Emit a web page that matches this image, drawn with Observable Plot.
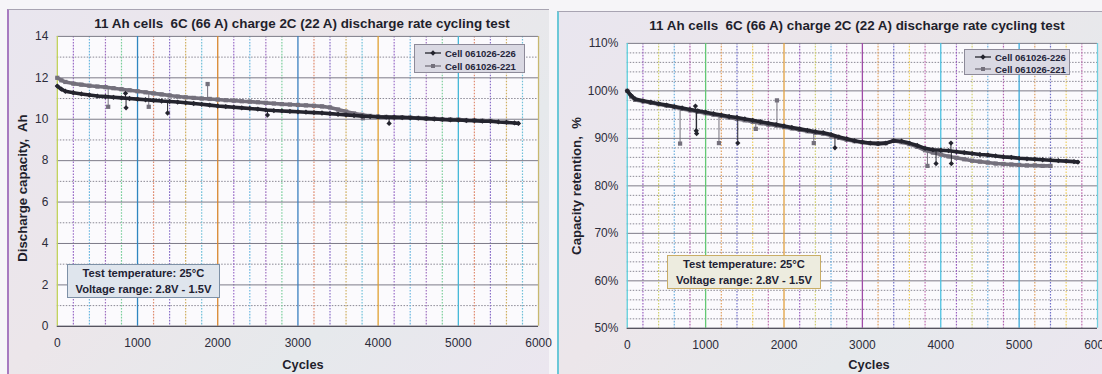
<!DOCTYPE html>
<html><head><meta charset="utf-8">
<script src="https://cdn.jsdelivr.net/npm/d3@7"></script>
<script src="https://cdn.jsdelivr.net/npm/@observablehq/plot@0.6"></script>
<style>
body{margin:0;width:1102px;height:374px;overflow:hidden;background:#f6f5f8;font-family:"Liberation Sans",Arial,sans-serif;}
.panel{position:absolute;background:linear-gradient(135deg,#e9e6ef 0%,#ece6ea 40%,#e6e9ec 70%,#ebe6ef 100%);box-sizing:border-box;}
.panel svg{position:absolute;left:0;top:0;overflow:visible;}
.title{position:absolute;font-weight:bold;font-size:13.4px;color:#1f1f2c;white-space:pre;transform:translate(-50%,-50%);}
.ylab{position:absolute;font-weight:bold;font-size:13.2px;color:#1f1f2c;white-space:pre;transform:translate(-50%,-50%) rotate(-90deg);}
.xlab{position:absolute;font-weight:bold;font-size:12.8px;line-height:14px;color:#1f1f2c;transform:translate(-50%,-50%);}
.legend{position:absolute;background:#dad9e3;border:1px solid #8d8a99;box-sizing:border-box;}
.legrow{position:absolute;left:0;height:12px;display:flex;align-items:center;font-weight:bold;font-size:9.5px;color:#25253a;white-space:pre;}
.note{position:absolute;box-sizing:border-box;font-weight:bold;font-size:11.2px;color:#222233;text-align:center;line-height:15.5px;padding-top:1px;}
</style></head>
<body>
<div id="root"></div>
<script>
// ---------- data ----------
const xTickLabels = [0, 1000, 2000, 3000, 4000, 5000, 6000];
const capTicks = [0, 2, 4, 6, 8, 10, 12, 14];
const retTicks = [50, 60, 70, 80, 90, 100, 110];

const seriesNames = ["Cell 061026-226", "Cell 061026-221"];

// Cell 061026-226 (black, diamonds)
const cycles226 = [0,50,100,200,300,400,500,600,700,800,900,1000,1100,1200,1300,1400,1500,1600,1700,1800,1900,2000,2100,2200,2300,2400,2500,2600,2700,2800,2900,3000,3100,3200,3300,3400,3500,3600,3700,3800,3900,4000,4100,4200,4300,4400,4500,4600,4700,4800,4900,5000,5100,5200,5300,5400,5500,5600,5700,5750];
const capacity226 = [11.60,11.45,11.35,11.28,11.22,11.17,11.12,11.09,11.06,11.03,11.00,10.97,10.94,10.91,10.88,10.86,10.83,10.80,10.76,10.72,10.68,10.64,10.61,10.58,10.55,10.52,10.49,10.45,10.42,10.40,10.38,10.36,10.34,10.32,10.30,10.27,10.24,10.21,10.18,10.15,10.13,10.11,10.10,10.09,10.08,10.07,10.05,10.03,10.01,9.99,9.97,9.96,9.94,9.93,9.91,9.90,9.87,9.85,9.82,9.80];
const retention226 = [100.0,99.0,98.3,97.9,97.6,97.3,97.0,96.7,96.4,96.1,95.8,95.5,95.2,94.9,94.6,94.4,94.1,93.8,93.5,93.2,92.9,92.6,92.3,92.0,91.7,91.4,91.2,90.8,90.3,89.9,89.5,89.2,89.0,88.9,89.0,89.5,89.4,89.0,88.5,87.9,87.6,87.5,87.4,87.2,87.0,86.8,86.6,86.5,86.3,86.1,86.0,85.8,85.7,85.6,85.5,85.4,85.3,85.2,85.1,85.0];

// Cell 061026-221 (gray, squares)
const cycles221 = [0,50,100,200,300,400,500,600,700,800,900,1000,1100,1200,1300,1400,1500,1600,1700,1800,1900,2000,2100,2200,2300,2400,2500,2600,2700,2800,2900,3000,3100,3200,3300,3400,3500,3600,3700,3800,3900,4000,4100,4200,4300,4400,4500,4600,4700,4800,4900,5000,5100,5200,5300,5400];
const capacity221 = [12.00,11.88,11.80,11.72,11.67,11.62,11.58,11.55,11.50,11.45,11.40,11.35,11.30,11.25,11.20,11.15,11.10,11.06,11.03,11.00,10.98,10.95,10.92,10.90,10.87,10.85,10.82,10.79,10.76,10.73,10.71,10.69,10.67,10.65,10.62,10.57,10.47,10.37,10.28,10.21,10.16,10.13,10.11,10.10,10.09,10.08,10.06,10.04,10.02,10.00,9.99,9.98,9.96,9.95,9.93,9.92];
const retention221 = [100.0,98.8,98.1,97.8,97.5,97.2,96.9,96.6,96.2,95.9,95.6,95.3,95.0,94.7,94.4,94.1,93.8,93.5,93.2,92.9,92.7,92.4,92.1,91.8,91.5,91.2,91.0,90.6,90.1,89.7,89.4,89.2,89.0,88.9,89.0,89.5,89.2,88.8,88.2,87.5,87.0,86.6,86.2,85.9,85.6,85.3,85.1,84.9,84.7,84.6,84.5,84.4,84.3,84.3,84.2,84.2];

// isolated outlier readings (cycle, value on the trend, outlier value)
const capSpike226Cycle = [850, 857, 1375, 2620, 4137];
const capSpike226From  = [11.03, 11.03, 10.87, 10.45, 10.11];
const capSpike226To    = [11.25, 10.55, 10.30, 10.20, 9.80];
const capSpike221Cycle = [634, 1140, 1874, 3810];
const capSpike221From  = [11.55, 11.30, 11.00, 10.20];
const capSpike221To    = [10.60, 10.60, 11.70, 10.05];

const retSpike226Cycle = [870, 880, 885, 1410, 2650, 3940, 4130, 4135];
const retSpike226From  = [96.0, 96.0, 96.0, 94.4, 90.6, 87.6, 87.4, 87.4];
const retSpike226To    = [96.8, 91.6, 91.0, 89.0, 88.0, 84.7, 89.0, 84.7];
const retSpike221Cycle = [674, 1170, 1640, 1910, 2380, 3830];
const retSpike221From  = [96.3, 94.8, 93.4, 92.7, 91.3, 87.4];
const retSpike221To    = [88.9, 89.0, 92.0, 98.0, 89.0, 84.2];

// ---------- styling ----------
const colorBlack = "#24242e";
const colorGray = "#74707c";
const leftMajorColors = ["#c2d25a","#2f86c0","#d8862e","#3a7fbf","#e0a030","#44b8d8","#c8b870"];
const leftMinorColors = ["#9a6cc8","#6cb8e0","#a070c0","#7ccf9c","#e08c70","#8a70c8","#d0b060","#70c0d8"];
const rightMajorColors = ["#5fd0dc","#62c874","#e0a040","#a04ca8","#4cc0e0","#3aa8d8","#70d0e0"];
const rightMinorColors = ["#9a60c0","#d0d070","#6cb0e0","#b060b0","#e0a060","#7070c8","#f0d060","#c070b0"];

function makeChart(cfg) {
  const xGrid = d3.range(0, 6001, 200);
  const minorX = xGrid.filter(d => d % 1000 !== 0);
  const majorX = xGrid.filter(d => d % 1000 === 0);
  const marks = [
    Plot.frame({fill: "#fbfafd", stroke: null}),
    Plot.ruleY(cfg.yMinor, {stroke: "#8a8894", strokeDasharray: "1.5,1.5", strokeWidth: 1}),
    Plot.ruleX(minorX, {x: d => d, stroke: (d, i) => cfg.minorColors[i % cfg.minorColors.length], strokeDasharray: "1.6,1.4", strokeWidth: 1.2}),
    Plot.ruleY(cfg.yTicks, {stroke: "#7c7a88", strokeWidth: 1}),
    Plot.ruleX(majorX, {x: d => d, stroke: (d, i) => cfg.majorColors[i], strokeWidth: 1.3}),
    Plot.ruleY([cfg.yDomain[0]], {stroke: "#55535f", strokeWidth: 1.3})
  ];
  // draw the second series first so the first (black) lies on top
  for (const s of [...cfg.series].reverse()) {
    marks.push(
      Plot.ruleX(s.spTo, {x: s.spCycle, y1: s.spFrom, y2: s.spTo, stroke: s.color, strokeWidth: 1}),
      Plot.dot(s.spTo, {x: s.spCycle, y: s.spTo, symbol: s.symbol, fill: s.color, r: 2.4}),
      Plot.line(s.values, {x: s.cycles, y: s.values, stroke: s.color, strokeWidth: 3.6, curve: "linear"}),
      Plot.dot(s.values, {x: s.cycles, y: s.values, symbol: s.symbol, fill: s.color, r: 2.4})
    );
  }
  return Plot.plot({
    width: cfg.width, height: cfg.height,
    marginLeft: cfg.ml, marginRight: cfg.mr, marginTop: cfg.mt, marginBottom: cfg.mb,
    color: {type: "identity"},
    x: {domain: [0, 6000], ticks: xTickLabels, tickSize: 0, tickPadding: 12, label: null, tickFormat: d => String(d)},
    y: {domain: cfg.yDomain, ticks: cfg.yTicks, tickSize: 0, tickPadding: 9, label: null, tickFormat: cfg.yFormat},
    style: {fontFamily: '"Liberation Sans", Arial, sans-serif', fontSize: "12px", color: "#2c2c3a", background: "transparent", overflow: "visible"},
    marks
  });
}

function el(tag, cls, style, text) {
  const e = document.createElement(tag);
  if (cls) e.className = cls;
  Object.assign(e.style, style || {});
  if (text != null) e.textContent = text;
  return e;
}

function legendSample(color, symbol) {
  const ns = "http://www.w3.org/2000/svg";
  const svg = document.createElementNS(ns, "svg");
  svg.setAttribute("width", 18); svg.setAttribute("height", 8);
  svg.style.position = "static"; svg.style.marginRight = "3px";
  const line = document.createElementNS(ns, "line");
  line.setAttribute("x1", 1); line.setAttribute("x2", 17); line.setAttribute("y1", 4); line.setAttribute("y2", 4);
  line.setAttribute("stroke", color); line.setAttribute("stroke-width", 1.3);
  svg.appendChild(line);
  let m;
  if (symbol === "square") {
    m = document.createElementNS(ns, "rect");
    m.setAttribute("x", 7); m.setAttribute("y", 2); m.setAttribute("width", 4); m.setAttribute("height", 4);
  } else {
    m = document.createElementNS(ns, "path");
    m.setAttribute("d", "M9,1.3L11.7,4L9,6.7L6.3,4Z");
  }
  m.setAttribute("fill", color);
  svg.appendChild(m);
  return svg;
}

function buildPanel(p) {
  const panel = el("div", "panel", {left: p.left + "px", top: p.top + "px", width: p.width + "px", height: p.height + "px",
    borderTop: "1px solid #a8a4b2", borderLeft: "2px solid " + p.edge});
  panel.appendChild(makeChart(p.chart));
  panel.appendChild(el("div", "title", {left: p.titleX + "px", top: p.titleY + "px"}, "11 Ah cells  6C (66 A) charge 2C (22 A) discharge rate cycling test"));
  panel.appendChild(el("div", "ylab", {left: p.ylabX + "px", top: p.ylabY + "px"}, p.ylab));
  panel.appendChild(el("div", "xlab", {left: p.xlabX + "px", top: p.xlabY + "px"}, "Cycles"));
  const leg = el("div", "legend", {left: p.leg[0] + "px", top: p.leg[1] + "px", width: p.leg[2] + "px", height: p.leg[3] + "px"});
  p.chart.series.forEach((s, i) => {
    const row = el("div", "legrow", {top: (p.legRowY[i] - 6) + "px", paddingLeft: "9px"});
    row.appendChild(legendSample(s.color, s.symbol));
    row.appendChild(document.createTextNode(s.name));
    leg.appendChild(row);
  });
  panel.appendChild(leg);
  const note = el("div", "note", {left: p.note[0] + "px", top: p.note[1] + "px", width: p.note[2] + "px", height: p.note[3] + "px",
    background: p.noteBg, border: "1px solid " + p.noteBorder});
  note.appendChild(el("div", null, {}, "Test temperature: 25°C"));
  note.appendChild(el("div", null, {}, "Voltage range: 2.8V - 1.5V"));
  panel.appendChild(note);
  return panel;
}

const root = document.getElementById("root");

root.appendChild(buildPanel({
  left: 7, top: 9, width: 542, height: 365, edge: "#a77ac0",
  titleX: 293, titleY: 13, ylab: "Discharge capacity,  Ah", ylabX: 13, ylabY: 178, xlabX: 294, xlabY: 355,
  leg: [405, 34, 111, 29], legRowY: [8, 21],
  note: [58, 254, 153, 34], noteBg: "#dfe5ed", noteBorder: "#7d90a6",
  chart: {
    width: 542, height: 365, ml: 48, mr: 11, mt: 26, mb: 48,
    yDomain: [0, 14], yTicks: capTicks, yMinor: [1,3,5,7,9,11,13], yFormat: d => String(d),
    majorColors: leftMajorColors, minorColors: leftMinorColors,
    series: [
      {name: seriesNames[0], color: colorBlack, symbol: "diamond2", cycles: cycles226, values: capacity226, spCycle: capSpike226Cycle, spFrom: capSpike226From, spTo: capSpike226To},
      {name: seriesNames[1], color: colorGray, symbol: "square", cycles: cycles221, values: capacity221, spCycle: capSpike221Cycle, spFrom: capSpike221From, spTo: capSpike221To}
    ]
  }
}));

root.appendChild(buildPanel({
  left: 557, top: 11, width: 545, height: 363, edge: "#6cc8d8",
  titleX: 298, titleY: 13, ylab: "Capacity retention,  %", ylabX: 17, ylabY: 174, xlabX: 310, xlabY: 353,
  leg: [405, 37, 106, 26], legRowY: [7, 19],
  note: [108, 243, 154, 34], noteBg: "#edecdf", noteBorder: "#c9ad66",
  chart: {
    width: 545, height: 363, ml: 68, mr: 5, mt: 31, mb: 46,
    yDomain: [50, 110], yTicks: retTicks, yMinor: d3.range(52, 110, 2).filter(d => d % 10 !== 0), yFormat: d => d + "%",
    majorColors: rightMajorColors, minorColors: rightMinorColors,
    series: [
      {name: seriesNames[0], color: colorBlack, symbol: "diamond2", cycles: cycles226, values: retention226, spCycle: retSpike226Cycle, spFrom: retSpike226From, spTo: retSpike226To},
      {name: seriesNames[1], color: colorGray, symbol: "square", cycles: cycles221, values: retention221, spCycle: retSpike221Cycle, spFrom: retSpike221From, spTo: retSpike221To}
    ]
  }
}));
</script>
</body></html>
